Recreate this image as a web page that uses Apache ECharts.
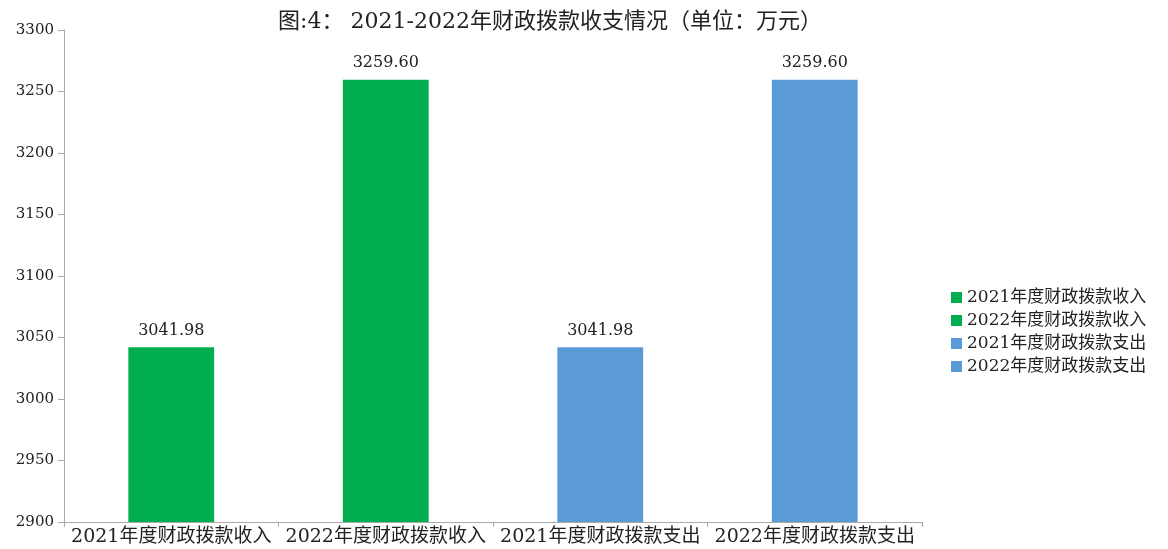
<!DOCTYPE html>
<html><head><meta charset="utf-8">
<script src="https://cdn.jsdelivr.net/npm/echarts@6/dist/echarts.min.js"></script>
<style>html,body{margin:0;padding:0;background:#fff}#c{width:1168px;height:549px}</style>
</head><body><div id="c"></div>
<script>
const categories = ['2021年度财政拨款收入','2022年度财政拨款收入','2021年度财政拨款支出','2022年度财政拨款支出'];
const values = [3041.98, 3259.60, 3041.98, 3259.60];
const colors = ['#00AE4F','#00AE4F','#5B9BD5','#5B9BD5'];
const titleText = '图:4： 2021-2022年财政拨款收支情况（单位：万元）';
const FONT = '"DejaVu Serif", "Noto Sans CJK SC", serif';

const series = categories.map((name, i) => ({
  name: name,
  type: 'bar',
  stack: 'all',
  barWidth: '40%',
  itemStyle: { color: colors[i] },
  label: {
    show: true, position: 'top', distance: 9,
    color: '#222', fontSize: 16, fontFamily: FONT,
    formatter: p => Number(p.value).toFixed(2)
  },
  data: categories.map((c, j) => j === i ? values[i] : '-')
}));

const chart = echarts.init(document.getElementById('c'));
chart.setOption({
  animation: false,
  title: { text: titleText, left: 545, top: 6, textAlign: 'center',
    textStyle: { fontSize: 22, fontWeight: 'normal', color: '#222', fontFamily: FONT } },
  legend: {
    orient: 'vertical', left: 946, top: 284, itemWidth: 11, itemHeight: 11, itemGap: 6,
    icon: 'rect',
    textStyle: { fontSize: 17, color: '#222', fontFamily: FONT },
    data: categories
  },
  grid: { left: 64, right: 246, top: 30, bottom: 27, containLabel: false },
  xAxis: {
    type: 'category', data: categories,
    axisLine: { lineStyle: { color: '#aaa' } },
    axisTick: { show: true, lineStyle: { color: '#aaa' } },
    axisLabel: { fontSize: 19, color: '#222', fontFamily: FONT, margin: 6, interval: 0 }
  },
  yAxis: {
    type: 'value', min: 2900, max: 3300, interval: 50,
    axisLine: { show: true, lineStyle: { color: '#aaa' } },
    axisTick: { show: true, length: 6, lineStyle: { color: '#aaa' } },
    splitLine: { show: false },
    axisLabel: { fontSize: 15, color: '#222', fontFamily: FONT, margin: 10, formatter: v => String(v) }
  },
  series: series
});
</script></body></html>
